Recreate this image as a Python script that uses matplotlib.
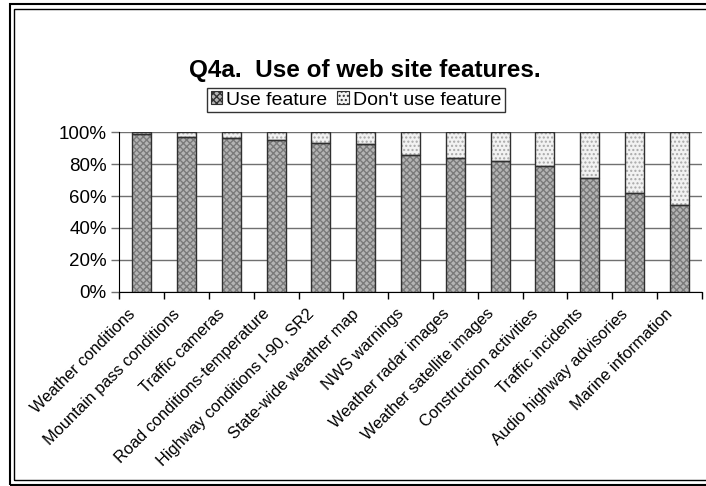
import numpy as np
import matplotlib.pyplot as plt
import matplotlib.transforms as mtransforms
from matplotlib.patches import Patch, Rectangle

plt.rcParams['font.family'] = ['Liberation Sans', 'DejaVu Sans']

categories = ['Weather conditions', 'Mountain pass conditions', 'Traffic cameras',
              'Road conditions-temperature', 'Highway conditions I-90, SR2',
              'State-wide weather map', 'NWS warnings', 'Weather radar images',
              'Weather satellite images', 'Construction activities', 'Traffic incidents',
              'Audio highway advisories', 'Marine information']
use_feature = [98.7, 96.9, 96.2, 95.2, 93.5, 92.9, 85.8, 83.7, 81.8, 78.9, 71.5, 62.1, 54.4]
dont_use = [100 - v for v in use_feature]
series_names = ['Use feature', "Don't use feature"]

fig = plt.figure(figsize=(7.06, 4.86), dpi=100)
ax = fig.add_axes([119.3 / 706, 194.3 / 486, 582.4 / 706, 159.4 / 486])

x = np.arange(len(categories))
w = 0.42
dark_fc, dark_hc = '#b4b4b4', '#7a7a7a'
light_fc, light_hc = '#f2f2f2', '#a8a8a8'

# fill + hatch layer, then outline layer
ax.bar(x, use_feature, w, color=dark_fc, edgecolor=dark_hc, hatch='xxxxx', linewidth=0, zorder=3)
ax.bar(x, dont_use, w, bottom=use_feature, color=light_fc, edgecolor=light_hc, hatch='....', linewidth=0, zorder=3)
ax.bar(x, use_feature, w, fill=False, edgecolor='#303030', linewidth=1.0, zorder=4)
ax.bar(x, dont_use, w, bottom=use_feature, fill=False, edgecolor='#303030', linewidth=1.0, zorder=4)

ax.set_xlim(-0.5, len(categories) - 0.5)
ax.set_ylim(0, 100)
ax.set_yticks(np.arange(0, 101, 20))
ax.set_yticklabels(['%d%%' % v for v in range(0, 101, 20)], fontsize=13.5)
ax.yaxis.grid(True, color='#707070', linewidth=1.0, zorder=0)
ax.tick_params(axis='y', length=6, width=1, color='#707070', pad=3)

ax.set_xticks(x)
ax.set_xticklabels(categories, rotation=45, ha='right', rotation_mode='anchor', fontsize=11.8)
ax.tick_params(axis='x', which='major', length=0, pad=14)
ax.set_xticks(np.arange(-0.5, len(categories) + 0.5, 1), minor=True)
ax.tick_params(axis='x', which='minor', length=5, width=1, color='black')
shift = mtransforms.ScaledTranslation(-14 / 100, 5 / 100, fig.dpi_scale_trans)
for lab in ax.get_xticklabels():
    lab.set_transform(lab.get_transform() + shift)

for s in ['top', 'right']:
    ax.spines[s].set_visible(False)
ax.spines['left'].set_color('black')
ax.spines['bottom'].set_color('black')

fig.text(365 / 706, 1 - 70 / 486, 'Q4a.  Use of web site features.', ha='center', va='center',
         fontsize=17.5, fontweight='bold')

handles = [Patch(facecolor=dark_fc, edgecolor='#303030', hatch='xxxxx', linewidth=0.8),
           Patch(facecolor=light_fc, edgecolor='#303030', hatch='....', linewidth=0.8)]
leg = fig.legend(handles, series_names, loc='center', bbox_to_anchor=(356 / 706, 1 - 100 / 486),
                 ncol=2, fontsize=14, frameon=True, fancybox=False, handlelength=0.6,
                 handleheight=0.6, handletextpad=0.2, columnspacing=0.5, borderpad=0.2,
                 borderaxespad=0)
leg.get_frame().set_edgecolor('black')
leg.get_frame().set_linewidth(1.0)

# double border around the chart
for (x0, y0, x1, y1, lw) in [(10, 4, 712, 485, 1.5), (14, 9, 712, 480, 1.0)]:
    fig.add_artist(Rectangle((x0 / 706, 1 - y1 / 486), (x1 - x0) / 706, (y1 - y0) / 486,
                             fill=False, edgecolor='black', linewidth=lw,
                             transform=fig.transFigure))

fig.savefig('out.png', dpi=100)
